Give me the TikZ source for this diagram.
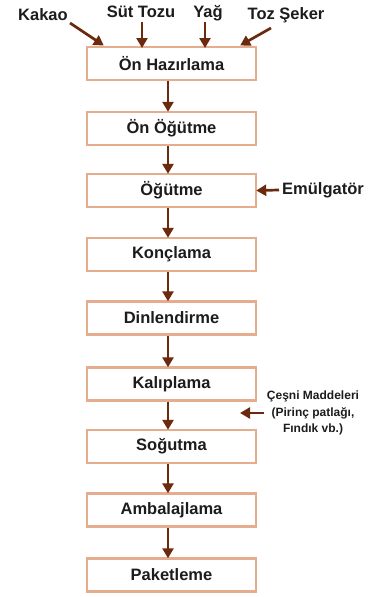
\documentclass[tikz,border=0pt]{standalone}
\usepackage{fontspec}
\setmainfont{Liberation Sans}
\usetikzlibrary{arrows.meta}
\definecolor{boxline}{HTML}{E6AC8E}
\definecolor{arrowbrown}{HTML}{6B2A0E}
\definecolor{ink}{HTML}{1C1C1C}
\begin{document}
\begin{tikzpicture}[x=1pt,y=-1pt,
  stepbox/.style={draw=boxline, line width=2.4pt, fill=white, minimum width=169pt,
    minimum height=33pt, inner sep=0pt, text=ink,
    font=\fontsize{16.5}{19}\selectfont\bfseries},
  label/.style={text=ink, font=\fontsize{16.5}{19}\selectfont\bfseries, inner sep=0pt},
  small/.style={text=ink, font=\fontsize{12}{16.5}\selectfont\bfseries, inner sep=0pt, align=center},
  flow/.style={draw=arrowbrown, line width=2.7pt,
    -{Triangle[length=10pt,width=11pt]}, shorten >=-1pt}]
\useasboundingbox (0,0) rectangle (379,597);

% process steps
\node[stepbox] (s1) at (171.5,63.5) {Ön Hazırlama};
\node[stepbox] (s2) at (171.5,128.5) {Ön Öğütme};
\node[stepbox] (s3) at (171.5,190.5) {Öğütme};
\node[stepbox] (s4) at (171.5,254.5) {Konçlama};
\node[stepbox] (s5) at (171.5,318) {Dinlendirme};
\node[stepbox] (s6) at (171.5,384) {Kalıplama};
\node[stepbox] (s7) at (171.5,446.5) {Soğutma};
\node[stepbox] (s8) at (171.5,510) {Ambalajlama};
\node[stepbox] (s9) at (171.5,575) {Paketleme};

% flow between steps
\foreach \a/\b in {s1/s2,s2/s3,s3/s4,s4/s5,s5/s6,s6/s7,s7/s8,s8/s9}
  \draw[flow] ([xshift=-3.5pt]\a.south) -- ([xshift=-3.5pt]\b.north);

% raw materials
\node[label] (kakao) at (43,15) {Kakao};
\node[label] (sut) at (141,12) {Süt Tozu};
\node[label] (yag) at (208,13) {Yağ};
\node[label] (seker) at (286,15) {Toz Şeker};

\coordinate (kt) at (70,23);
\coordinate (kh) at (103,45);
\coordinate (st) at (142,22);
\coordinate (sh) at (142,47);
\coordinate (yt) at (205,22);
\coordinate (yh) at (205,47);
\coordinate (tt) at (271,28);
\coordinate (th) at (241,45);
\draw[flow] (kt) -- (kh);
\draw[flow] (st) -- (sh);
\draw[flow] (yt) -- (yh);
\draw[flow] (tt) -- (th);

% additives
\node[label, anchor=west] (emul) at (282,190) {Emülgatör};
\draw[flow] (emul.west) ++(-3,0) coordinate (et) (et) -- (s3.east);

\node[small] (cesni) at (313,413) {Çeşni Maddeleri\\(Pirinç patlağı,\\Fındık vb.)};
\coordinate (ct) at (264,413);
\coordinate (ch) at (241,413);
\draw[flow] (ct) -- (ch);
\end{tikzpicture}
\end{document}
